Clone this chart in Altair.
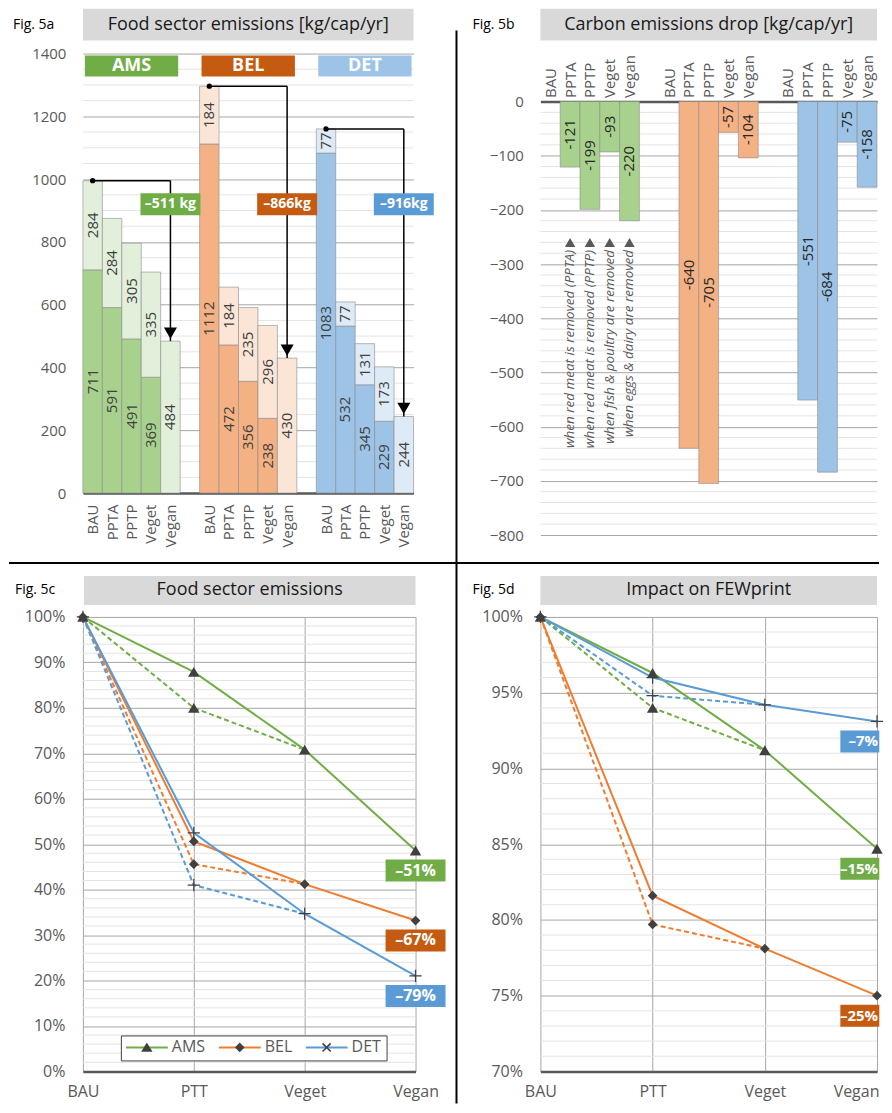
import altair as alt
import pandas as pd

FONT = "Open Sans"
AXC = "#595959"
GRID_MAJ = "#A6A6A6"
GRID_MIN = "#E4E4E4"
TITLE_BG = "#D9D9D9"

# ---------------- data ----------------
scenarios = ["BAU", "PPTA", "PPTP", "Veget", "Vegan"]
cities = ["AMS", "BEL", "DET"]

# Fig 5a  (dark = base part, light = top part)
ams_base = [711, 591, 491, 369, 0]
ams_top = [284, 284, 305, 335, 484]
bel_base = [1112, 472, 356, 238, 0]
bel_top = [184, 184, 235, 296, 430]
det_base = [1083, 532, 345, 229, 0]
det_top = [77, 77, 131, 173, 244]
reduction_labels = ["–511 kg", "–866kg", "–916kg"]

# Fig 5b
ams_drop = [0, -121, -199, -93, -220]
bel_drop = [0, -640, -705, -57, -104]
det_drop = [0, -551, -684, -75, -158]
notes = ["when red meat is removed (PPTA)", "when red meat is removed (PPTP)",
         "when fish & poultry are removed", "when eggs & dairy are removed"]

# Fig 5c / 5d
stages = ["BAU", "PTT", "Veget", "Vegan"]
food_ams = [1.0, 0.879, 0.708, 0.486]
food_bel = [1.0, 0.506, 0.412, 0.332]
food_det = [1.0, 0.525, 0.347, 0.210]
food_pptp = [0.800, 0.456, 0.410]
food_labels = ["–51%", "–67%", "–79%"]
few_ams = [1.0, 0.963, 0.912, 0.847]
few_bel = [1.0, 0.816, 0.781, 0.750]
few_det = [1.0, 0.960, 0.942, 0.931]
few_pptp = [0.940, 0.797, 0.948]
few_labels = ["–15%", "–25%", "–7%"]

dark_fill = ["#A9D18E", "#F4B183", "#9DC3E6"]
light_fill = ["#E2EFDA", "#FBE5D6", "#DEEBF7"]
header_fill = ["#70AD47", "#C55A11", "#9DC3E6"]
badge_fill = ["#70AD47", "#C55A11", "#5B9BD5"]
line_color = ["#70AD47", "#ED7D31", "#5B9BD5"]

PLUS = "M-1,-0.1H-0.1V-1H0.1V-0.1H1V0.1H0.1V1H-0.1V0.1H-1Z"
marker_shape = ["triangle-up", "diamond", PLUS]
marker_size = [130, 95, 150]
# legend symbols (unit = 21 px)
LINE_PATH = "M-1,-0.05H1V0.05H-1Z"
X_PATH = ("M-0.22,-0.165L-0.165,-0.22L0,-0.055L0.165,-0.22L0.22,-0.165L0.055,0L0.22,0.165"
          "L0.165,0.22L0,0.055L-0.165,0.22L-0.22,0.165L-0.055,0Z")
legend_markers = ["M0,-0.24L0.27,0.21L-0.27,0.21Z", "M0,-0.23L0.23,0L0,0.23L-0.23,0Z", X_PATH]

dummy = pd.DataFrame({"d": [0]})

slot_names = []
for gi in range(3):
    slot_names += scenarios
    if gi < 2:
        slot_names.append("")
slot_values = [i for i, n in enumerate(slot_names) if n]
label_expr = "[" + ",".join(repr(n) for n in slot_names) + "][datum.value]"


def deco(w, y0, y1, text, fig, fig_x, x0=0):
    rect = alt.Chart(dummy).mark_rect(color=TITLE_BG).encode(
        x=alt.value(x0), x2=alt.value(w), y=alt.value(y0), y2=alt.value(y1))
    txt = alt.Chart(dummy).mark_text(fontSize=18, color="#1A1A1A", font=FONT).encode(
        x=alt.value((x0 + w) / 2), y=alt.value((y0 + y1) / 2), text=alt.value(text))
    ft = alt.Chart(dummy).mark_text(fontSize=14, color="#000000", align="left", font=FONT).encode(
        x=alt.value(fig_x), y=alt.value((y0 + y1) / 2), text=alt.value(fig))
    return [rect, txt, ft]


# ---------------- Fig 5a ----------------
W1, H1 = 331, 440
X1 = alt.X("x:Q", scale=alt.Scale(domain=[-0.5, 16.5], nice=False, zero=False),
           axis=alt.Axis(values=slot_values, labelExpr=label_expr, labelAngle=270, labelAlign="right",
                         labelBaseline="middle", labelPadding=11, labelFontSize=15, labelColor=AXC,
                         ticks=False, grid=False, domainColor=AXC, domainWidth=2.5, title=None))
Y1 = alt.Y("y:Q", scale=alt.Scale(domain=[0, 1400], nice=False, zero=False),
           axis=alt.Axis(values=list(range(0, 1401, 200)), format="d", labelFontSize=15, labelColor=AXC,
                         labelPadding=17, ticks=False, domain=False, grid=True, gridColor=GRID_MAJ,
                         title=None))

bases = [ams_base, bel_base, det_base]
tops = [ams_top, bel_top, det_top]
rows, lab = [], []
for gi in range(3):
    for si in range(5):
        slot = gi * 6 + si
        b, t = bases[gi][si], tops[gi][si]
        if b:
            rows.append({"x": slot - 0.5, "x2": slot + 0.5, "y": 0, "y2": b, "fill": dark_fill[gi]})
            lab.append({"x": slot, "y": b / 2, "label": str(b)})
        rows.append({"x": slot - 0.5, "x2": slot + 0.5, "y": b, "y2": b + t, "fill": light_fill[gi]})
        lab.append({"x": slot, "y": b + t / 2, "label": str(t)})
df5a = pd.DataFrame(rows)
lab5a = pd.DataFrame(lab)

minor1 = pd.DataFrame({"y": [v for v in range(50, 1400, 50) if v % 200]})
arr = pd.DataFrame({
    "g": [0, 6, 12],
    "bau": [bases[i][0] + tops[i][0] for i in range(3)],
    "veg": [bases[i][4] + tops[i][4] for i in range(3)],
    "label": reduction_labels, "fill": badge_fill, "hfill": header_fill, "city": cities})

p1_layers = [
    alt.Chart(minor1).mark_rule(color=GRID_MIN, strokeWidth=1).encode(y=Y1),
    alt.Chart(df5a).mark_rect(stroke="#8C8C8C", strokeWidth=0.6).encode(
        x=X1, x2="x2:Q", y=Y1, y2="y2:Q", fill=alt.Fill("fill:N", scale=None)),
    alt.Chart(lab5a).mark_text(angle=270, fontSize=15, color="#404040", font=FONT).encode(
        x=X1, y=Y1, text="label:N"),
    # header boxes
    alt.Chart(arr).transform_calculate(x="datum.g - 0.4", x2="datum.g + 4.4", y="1394", y2="1327").mark_rect().encode(
        x=X1, x2="x2:Q", y=Y1, y2="y2:Q", fill=alt.Fill("hfill:N", scale=None)),
    alt.Chart(arr).transform_calculate(x="datum.g + 2", y="1360").mark_text(
        fontSize=18, fontWeight="bold", color="white", font=FONT).encode(x=X1, y=Y1, text="city:N"),
    # arrows
    alt.Chart(arr).transform_calculate(x="datum.g", x2="datum.g + 4", y="datum.bau").mark_rule(
        color="black", strokeWidth=1.5).encode(x=X1, x2="x2:Q", y=Y1),
    alt.Chart(arr).transform_calculate(x="datum.g + 4", y="datum.bau", y2="datum.veg").mark_rule(
        color="black", strokeWidth=1.5).encode(x=X1, y=Y1, y2="y2:Q"),
    alt.Chart(arr).transform_calculate(x="datum.g", y="datum.bau").mark_circle(
        size=28, color="black", opacity=1).encode(x=X1, y=Y1),
    alt.Chart(arr).transform_calculate(x="datum.g + 4", y="datum.veg").mark_point(
        shape="triangle-down", filled=True, size=170, color="black", opacity=1, yOffset=-8).encode(x=X1, y=Y1),
    alt.Chart(arr).transform_calculate(x="datum.g + 4", y="920").mark_rect(width=60, height=22).encode(
        x=X1, y=Y1, fill=alt.Fill("fill:N", scale=None)),
    alt.Chart(arr).transform_calculate(x="datum.g + 4", y="920").mark_text(
        fontSize=14, fontWeight="bold", color="white", font=FONT).encode(x=X1, y=Y1, text="label:N"),
    # separators
    alt.Chart(dummy).mark_rule(color="#000000", strokeWidth=2).encode(
        x=alt.value(-74), x2=alt.value(797), y=alt.value(510)),
    alt.Chart(dummy).mark_rule(color="#000000", strokeWidth=2).encode(
        x=alt.value(374), y=alt.value(-23), y2=alt.value(1051)),
] + deco(W1, -45, -13, "Food sector emissions [kg/cap/yr]", "Fig. 5a", -70)
p1 = alt.layer(*p1_layers).properties(width=W1, height=H1)

# ---------------- Fig 5b ----------------
W2, H2 = 337, 482
X2 = alt.X("x:Q", scale=alt.Scale(domain=[-0.5, 16.5], nice=False, zero=False),
           axis=alt.Axis(orient="top", offset=-48, values=slot_values, labelExpr=label_expr, labelAngle=270,
                         labelAlign="left", labelBaseline="middle", labelPadding=4, labelFontSize=15,
                         labelColor=AXC, ticks=False, grid=False, domainColor=AXC, domainWidth=2.5, title=None))
Y2 = alt.Y("y:Q", scale=alt.Scale(domain=[-800, 88.5], nice=False, zero=False),
           axis=alt.Axis(values=list(range(-800, 1, 100)), format="d", labelFontSize=15, labelColor=AXC,
                         labelPadding=17, ticks=False, domain=False, grid=True, gridColor=GRID_MAJ, title=None))
drops = [ams_drop, bel_drop, det_drop]
rows, lab = [], []
for gi in range(3):
    for si in range(5):
        slot = gi * 6 + si
        v = drops[gi][si]
        if v:
            rows.append({"x": slot - 0.5, "x2": slot + 0.5, "y": 0, "y2": v, "fill": dark_fill[gi]})
            lab.append({"x": slot, "y": v / 2, "label": str(v)})
df5b = pd.DataFrame(rows)
lab5b = pd.DataFrame(lab)
minor2 = pd.DataFrame({"y": [v for v in range(-780, 0, 20) if v % 100]})
notes_df = pd.DataFrame({"x": [1, 2, 3, 4], "note": notes})

p2_layers = [
    alt.Chart(minor2).mark_rule(color=GRID_MIN, strokeWidth=1).encode(y=Y2),
    alt.Chart(df5b).mark_rect(stroke="#8C8C8C", strokeWidth=0.6).encode(
        x=X2, x2="x2:Q", y=Y2, y2="y2:Q", fill=alt.Fill("fill:N", scale=None)),
    alt.Chart(lab5b).mark_text(angle=270, fontSize=15, color="#262626", font=FONT).encode(
        x=X2, y=Y2, text="label:N"),
    alt.Chart(notes_df).transform_calculate(y="-260").mark_point(
        shape="triangle-up", filled=True, size=110, color="#595959", opacity=1).encode(x=X2, y=Y2),
    alt.Chart(notes_df).transform_calculate(y="-274").mark_text(
        angle=270, align="right", baseline="middle", fontStyle="italic", fontSize=13.5,
        color="#595959", font=FONT).encode(x=X2, y=Y2, text="note:N"),
] + deco(W2, -45, -13, "Carbon emissions drop [kg/cap/yr]", "Fig. 5b", -68)
p2 = alt.layer(*p2_layers).properties(width=W2, height=H2)


# ---------------- Fig 5c / 5d ----------------
def line_panel(width, height, ymin, major, minor_vals, solids, pptp, badges, title, fig, x0, legend, edge):
    label_offset = 0
    if edge:
        label_offset = {"condition": {"test": "datum.value == 'Vegan'", "value": -21}, "value": 0}
    X = alt.X("x:N", scale=alt.Scale(type="point", domain=stages, padding=0),
              axis=alt.Axis(labelAngle=0, labelPadding=12, labelFontSize=16, labelColor=AXC, ticks=False,
                            labelOffset=label_offset,
                            grid=True, gridColor=GRID_MAJ, domainColor=AXC, domainWidth=2.5, title=None))
    Y = alt.Y("y:Q", scale=alt.Scale(domain=[ymin, 1.0], nice=False, zero=False),
              axis=alt.Axis(values=major, format=".0%", labelFontSize=16, labelColor=AXC, labelPadding=18,
                            ticks=False, domain=False, grid=True, gridColor=GRID_MAJ, title=None))
    srows, drows, prows, brows = [], [], [], []
    for ci, c in enumerate(cities):
        for i, s in enumerate(stages):
            srows.append({"city": c, "x": s, "y": solids[ci][i], "i": i, "col": line_color[ci]})
            prows.append({"x": s, "y": solids[ci][i], "shape": marker_shape[ci], "size": marker_size[ci]})
        for i, (s, v) in enumerate(zip(stages[:3], [solids[ci][0], pptp[ci], solids[ci][2]])):
            drows.append({"city": c, "x": s, "y": v, "i": i, "col": line_color[ci]})
        prows.append({"x": "PTT", "y": pptp[ci], "shape": marker_shape[ci], "size": marker_size[ci]})
        brows.append({"x": "Vegan", "y": solids[ci][3], "label": badges[ci], "fill": badge_fill[ci]})
    sdf, ddf, pdf, bdf = map(pd.DataFrame, (srows, drows, prows, brows))
    if edge:
        badge_rect = alt.Chart(bdf).mark_rect(width=39, height=22, yOffset=20, xOffset=-17.2)
        badge_text = alt.Chart(bdf).mark_text(fontSize=15, fontWeight="bold", color="white", yOffset=20,
                                              align="right", xOffset=1, font=FONT)
    else:
        badge_rect = alt.Chart(bdf).mark_rect(width=60, height=22, yOffset=20)
        badge_text = alt.Chart(bdf).mark_text(fontSize=16, fontWeight="bold", color="white", yOffset=20,
                                              font=FONT)
    layers = [
        alt.Chart(pd.DataFrame({"y": minor_vals})).mark_rule(color=GRID_MIN, strokeWidth=1).encode(y=Y),
        alt.Chart(ddf).mark_line(strokeWidth=2, strokeDash=[5, 3]).encode(
            x=X, y=Y, color=alt.Color("col:N", scale=None), detail="city:N", order="i:Q"),
        alt.Chart(sdf).mark_line(strokeWidth=2).encode(
            x=X, y=Y, color=alt.Color("col:N", scale=None), detail="city:N", order="i:Q"),
        alt.Chart(pdf).mark_point(filled=True, color="#404040", opacity=1, strokeWidth=0).encode(
            x=X, y=Y, shape=alt.Shape("shape:N", scale=None), size=alt.Size("size:Q", scale=None)),
        badge_rect.encode(x=X, y=Y, fill=alt.Fill("fill:N", scale=None)),
        badge_text.encode(x=X, y=Y, text="label:N"),
    ]
    if legend:
        ldf = pd.DataFrame({"city": cities, "city2": [c + " " for c in cities]})
        common = dict(orient="none", legendX=38, legendY=419, direction="horizontal", title=None,
                      symbolSize=1764, clipHeight=14, symbolOffset=0, labelOffset=4, labelFontSize=16,
                      columnPadding=13, padding=5)
        layers.append(alt.Chart(ldf).transform_filter("false").mark_point(filled=True, size=1764, opacity=1).encode(
            color=alt.Color("city:N", scale=alt.Scale(domain=cities, range=line_color),
                            legend=alt.Legend(symbolType=LINE_PATH, symbolStrokeWidth=0, labelColor=AXC,
                                              strokeColor="#404040", fillColor="white", zindex=1, **common))))
        layers.append(alt.Chart(ldf).transform_filter("false").mark_point(
            filled=True, size=1764, color="#404040", opacity=1).encode(
            shape=alt.Shape("city2:N", scale=alt.Scale(domain=list(ldf["city2"]), range=legend_markers),
                            legend=alt.Legend(labelColor="transparent", labelExpr="trim(datum.label)",
                                              symbolFillColor="#404040", symbolStrokeWidth=0, zindex=2,
                                              **common))))
    layers += deco(width, -41, -12, title, fig, -68, x0=x0)
    return alt.layer(*layers).properties(width=width, height=height)


p3 = line_panel(333, 455, 0.0, [i / 10 for i in range(11)], [i / 100 for i in range(2, 100, 2) if i % 10],
                [food_ams, food_bel, food_det], food_pptp, food_labels,
                "Food sector emissions", "Fig. 5c", 1, True, False)
p4 = line_panel(337, 455, 0.7, [i / 100 for i in range(70, 101, 5)], [i / 100 for i in range(71, 100) if i % 5],
                [few_ams, few_bel, few_det], few_pptp, few_labels,
                "Impact on FEWprint", "Fig. 5d", 0, False, True)

chart = alt.concat(p1, p2, p3, p4, columns=2, spacing=alt.RowColnumber(row=82, column=125),
                   bounds="flush", padding=0).resolve_scale(
    color="independent", shape="independent").resolve_legend(
    color="independent", shape="independent").configure_view(strokeWidth=0).configure_axis(
    labelFont=FONT).configure_legend(labelFont=FONT).configure_text(font=FONT)

chart.save("out.html", embed_options={"renderer": "svg", "actions": False})
